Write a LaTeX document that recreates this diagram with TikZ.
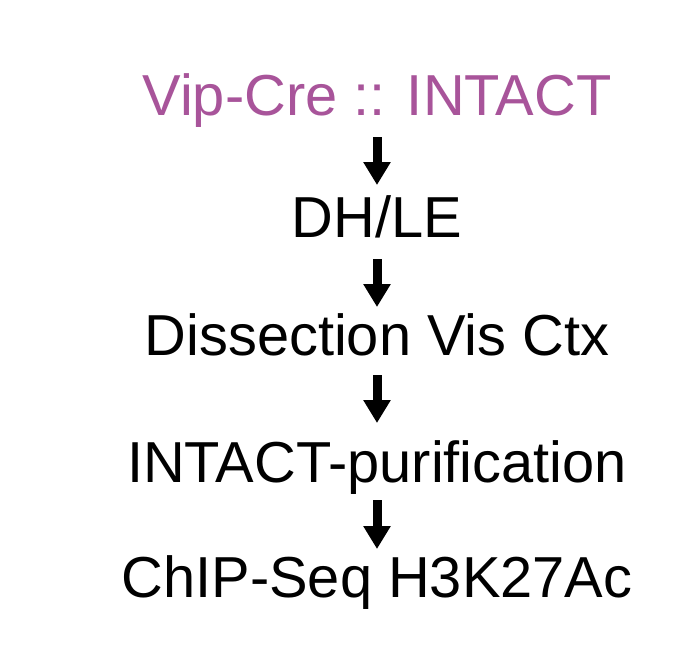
\documentclass[tikz,border=0pt]{standalone}
\usepackage{fontspec}
\setmainfont{Liberation Sans}
\usetikzlibrary{arrows.meta}
\definecolor{titlepurple}{RGB}{168,84,154}
\begin{document}
\begin{tikzpicture}[x=1pt,y=1pt,
  lbl/.style={anchor=base,inner sep=0pt,font=\fontsize{57.8}{62}\selectfont},
  arr/.style={line width=9pt,-{Triangle[width=26pt,length=23pt]}}]
\useasboundingbox[fill=white] (0,0) rectangle (696,-649);
\node[lbl,text=titlepurple] (a) at (377,-115) {Vip-Cre :: INTACT};
\node[lbl] (b) at (377,-237) {DH/LE};
\node[lbl] (c) at (377,-355) {Dissection Vis Ctx};
\node[lbl] (d) at (377,-482) {INTACT-purification};
\node[lbl] (e) at (377,-597) {ChIP-Seq H3K27Ac};
\draw[arr] ([yshift=-22pt]a.base) -- ([yshift=-70pt]a.base);
\draw[arr] ([yshift=-22pt]b.base) -- ([yshift=-70pt]b.base);
\draw[arr] ([yshift=-20pt]c.base) -- ([yshift=-68pt]c.base);
\draw[arr] ([yshift=-18pt]d.base) -- ([yshift=-67pt]d.base);
\end{tikzpicture}
\end{document}
